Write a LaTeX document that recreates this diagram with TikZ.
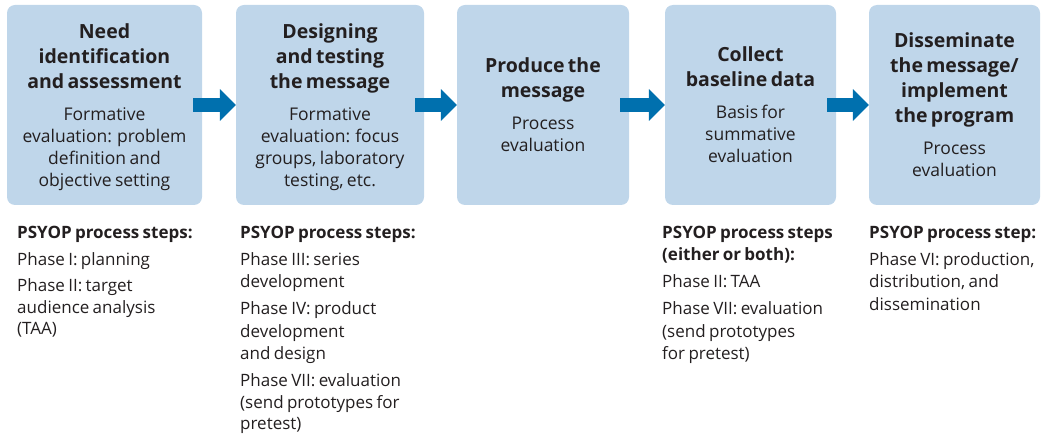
\documentclass[tikz,border=0pt]{standalone}
\usepackage{fontspec}
\setmainfont{Open Sans}
\usetikzlibrary{arrows.meta,calc}
\definecolor{boxblue}{RGB}{191,214,234}
\definecolor{arrowblue}{RGB}{0,112,174}
\definecolor{txt}{RGB}{35,31,32}
\newcommand{\ttlfont}{\fontsize{19.5}{25}\selectfont\bfseries}
\newcommand{\bdyfont}{\fontsize{17.5}{22}\selectfont\mdseries}
\newcommand{\lowfont}{\fontsize{17}{22}\selectfont}
\begin{document}
\begin{tikzpicture}[x=1pt,y=-1pt,
  stage/.style={fill=boxblue, rounded corners=8pt, minimum height=200pt,
    inner sep=0pt, text=txt},
  flow/.style={draw=arrowblue, line width=14pt,
    -{Triangle[length=16pt,width=31pt]}},
  notes/.style={anchor=base west, text width=220pt,
    inner sep=0pt, text=txt}]
\useasboundingbox (0,0) rectangle (1059,438);

\node[stage, minimum width=195pt, text width=195pt] (s1) at (104.5,105)
  {\centering\ttlfont Need\\identification\\and assessment\par\vspace{10pt}%
   \bdyfont Formative\\evaluation: problem\\definition and\\objective setting\par\vspace{-4pt}};
\node[stage, minimum width=188pt, text width=188pt] (s2) at (330,105)
  {\centering\ttlfont Designing\\and testing\\the message\par\vspace{10pt}%
   \bdyfont Formative\\evaluation: focus\\groups, laboratory\\testing, etc.\par\vspace{-4pt}};
\node[stage, minimum width=172pt, text width=172pt] (s3) at (543,105)
  {\centering\ttlfont Produce the\\message\par\vspace{10pt}%
   \bdyfont Process\\evaluation\par};
\node[stage, minimum width=171pt, text width=171pt] (s4) at (750.5,105)
  {\centering\ttlfont Collect\\baseline data\par\vspace{10pt}%
   \bdyfont Basis for\\summative\\evaluation\par};
\node[stage, minimum width=171pt, text width=171pt] (s5) at (954.5,105)
  {\centering\ttlfont Disseminate\\the message/\\implement\\the program\par\vspace{10pt}%
   \bdyfont Process\\evaluation\par};

\draw[flow] ($(s1.east)+(-9,0)$) -- (s2.west);
\draw[flow] ($(s2.east)+(-9,0)$) -- (s3.west);
\draw[flow] ($(s3.east)+(-9,0)$) -- (s4.west);
\draw[flow] ($(s4.east)+(-9,0)$) -- (s5.west);

\node[notes] (n1) at (17,239)
  {\raggedright\lowfont\textbf{PSYOP process steps:}\par\vspace{5pt}%
   Phase I: planning\par\vspace{3pt}%
   Phase II: target\\audience analysis\\(TAA)\par};
\node[notes] (n2) at (240,239)
  {\raggedright\lowfont\textbf{PSYOP process steps:}\par\vspace{5pt}%
   Phase III: series\\development\par\vspace{5pt}%
   Phase IV: product\\development\\and design\par\vspace{5pt}%
   Phase VII: evaluation\\(send prototypes for\\pretest)\par};
\node[notes] (n4) at (662,239)
  {\raggedright\lowfont\textbf{PSYOP process steps\\(either or both):}\par\vspace{5pt}%
   Phase II: TAA\par\vspace{5pt}%
   Phase VII: evaluation\\(send prototypes\\for pretest)\par};
\node[notes] (n5) at (869,239)
  {\raggedright\lowfont\textbf{PSYOP process step:}\par\vspace{5pt}%
   Phase VI: production,\\distribution, and\\dissemination\par};
\end{tikzpicture}
\end{document}
